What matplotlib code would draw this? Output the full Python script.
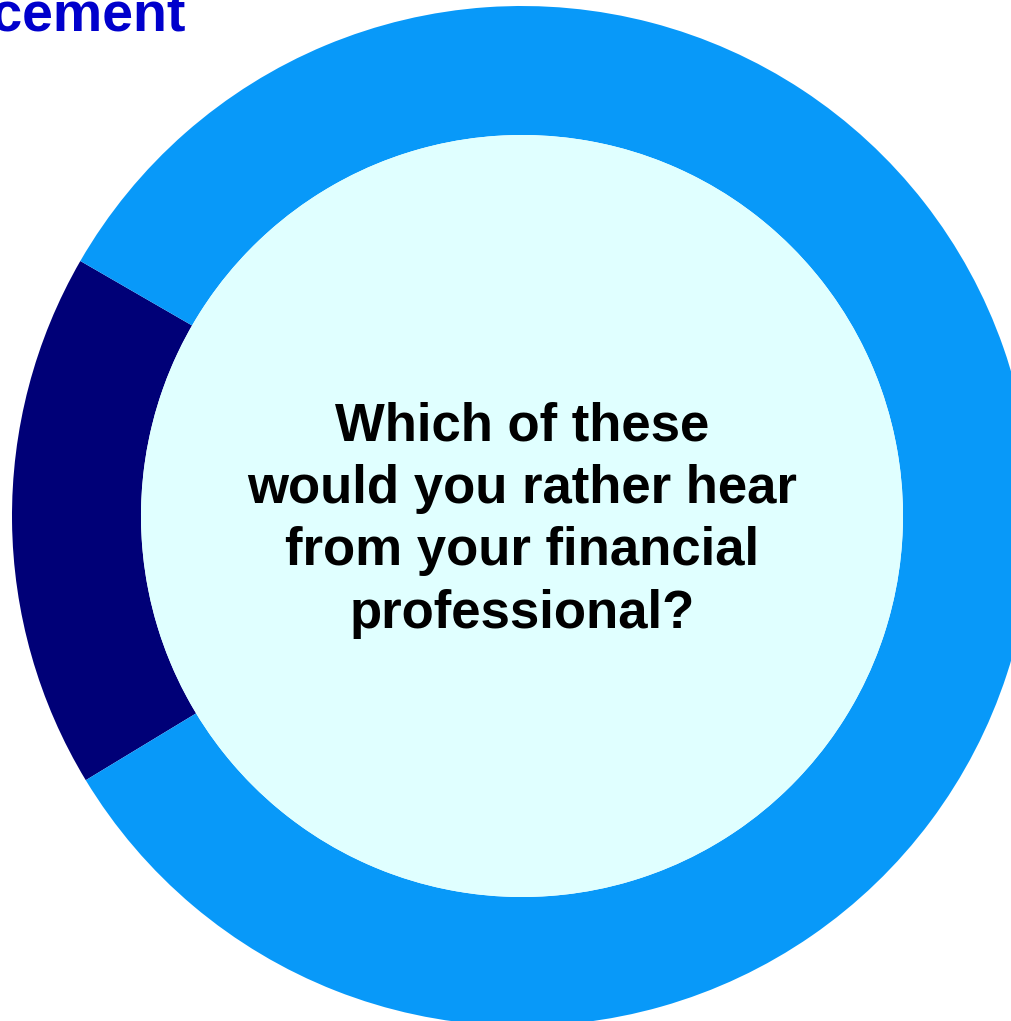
import matplotlib
matplotlib.use("Agg")
import matplotlib.pyplot as plt
from matplotlib.patches import Circle

# Survey split: share preferring each message
labels = ["Other", "Majority"]
shares = [17, 83]
colors = ["#000077", "#0899F9"]

title = "Income Replacement"
question = "Which of these\nwould you rather hear\nfrom your financial\nprofessional?"

W, H = 1012, 1021
fig = plt.figure(figsize=(W / 100, H / 100), dpi=100)
ax = fig.add_axes([0, 0, 1, 1])

cx, cy = 522, H - 516
r_out, r_in = 510, 381

ax.pie(shares, colors=colors, startangle=150, counterclock=True,
       center=(cx, cy), radius=r_out,
       wedgeprops=dict(width=r_out - r_in, linewidth=0))
ax.set_xlim(0, W)
ax.set_ylim(0, H)
ax.set_aspect("equal")
ax.axis("off")

ax.add_patch(Circle((cx, cy), r_in, facecolor="#E0FFFF", edgecolor="none", zorder=3))

ax.text(cx, cy - 4, question, ha="center", va="center", fontsize=38,
        fontweight="bold", family="Liberation Sans", color="black",
        linespacing=1.32, zorder=4)

ax.text(185, H - 31, title, ha="right", va="baseline", fontsize=40,
        fontweight="bold", family="Liberation Sans", color="#0000CC", zorder=4)

fig.savefig("out.png", dpi=100)
